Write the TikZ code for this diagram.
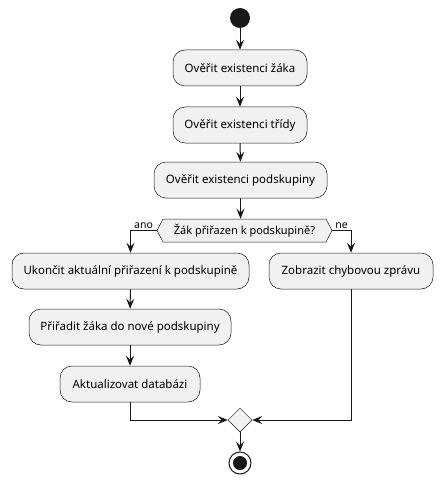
\documentclass[tikz,border=0pt]{standalone}
\usepackage{fontspec}
\setmainfont{Noto Sans}
\usetikzlibrary{arrows.meta,shapes.geometric,shapes.symbols}
\definecolor{fillc}{HTML}{F1F1F1}
\definecolor{linec}{HTML}{181818}
\tikzset{
  act/.style={draw=linec, fill=fillc, line width=0.5pt, rounded corners=12pt, minimum height=36pt, inner xsep=10pt, font=\fontsize{11.5pt}{13pt}\selectfont, text=black},
  conn/.style={draw=linec, line width=1pt, -{Stealth[length=10pt,width=8pt,inset=4pt]}},
  lbl/.style={font=\fontsize{10.5pt}{12pt}\selectfont, text=black, inner sep=1pt}
}
\begin{document}
\begin{tikzpicture}[x=1pt,y=-1pt]
\useasboundingbox (0,0) rectangle (442,484);
\node[circle, fill=linec, minimum size=20pt, inner sep=0] (start) at (240,18) {};
\node[act, minimum width=134pt] (a1) at (240,68) {Ověřit existenci žáka};
\node[act, minimum width=134pt] (a2) at (240,125) {Ověřit existenci třídy};
\node[act, minimum width=173pt] (a3) at (240.5,180) {Ověřit existenci podskupiny};
\node[draw=linec, fill=fillc, line width=0.5pt, signal, signal to=west and east, signal pointer angle=125, minimum width=175pt, minimum height=23pt, inner sep=1pt, font=\fontsize{11pt}{12pt}\selectfont] (d) at (244.5,230.5) {Žák přiřazen k podskupině?};
\node[act, minimum width=237pt] (b1) at (130.5,271) {Ukončit aktuální přiřazení k podskupině};
\node[act, minimum width=164pt] (c1) at (351,271) {Zobrazit chybovou zprávu};
\node[act, minimum width=202pt] (b2) at (130,327) {Přiřadit žáka do nové podskupiny};
\node[act, minimum width=140pt] (b3) at (130,384) {Aktualizovat databázi};
\node[diamond, draw=linec, fill=fillc, line width=0.5pt, minimum size=24pt, inner sep=0] (m) at (240,420) {};
\node[circle, draw=linec, fill=white, line width=1pt, minimum size=22pt, inner sep=0] (end) at (240,463) {};
\node[circle, fill=linec, minimum size=14pt, inner sep=0] at (end) {};
\draw[conn] (start) -- (a1);
\draw[conn] (a1) -- (a2);
\draw[conn] (a2) -- (a3);
\draw[conn] (a3.south) -- (a3.south |- d.north);
\draw[conn] (d.west) -| (b1.north) node[lbl, pos=0.25, above] {ano};
\draw[conn] (d.east) -| (c1.north) node[lbl, pos=0.25, above] {ne};
\draw[conn] (b1) -- (b2);
\draw[conn] (b2) -- (b3);
\draw[conn] (b3.south) |- (m.west);
\draw[conn] (c1.south) |- (m.east);
\draw[conn] (m.south) -- (end.north);
\end{tikzpicture}
\end{document}
